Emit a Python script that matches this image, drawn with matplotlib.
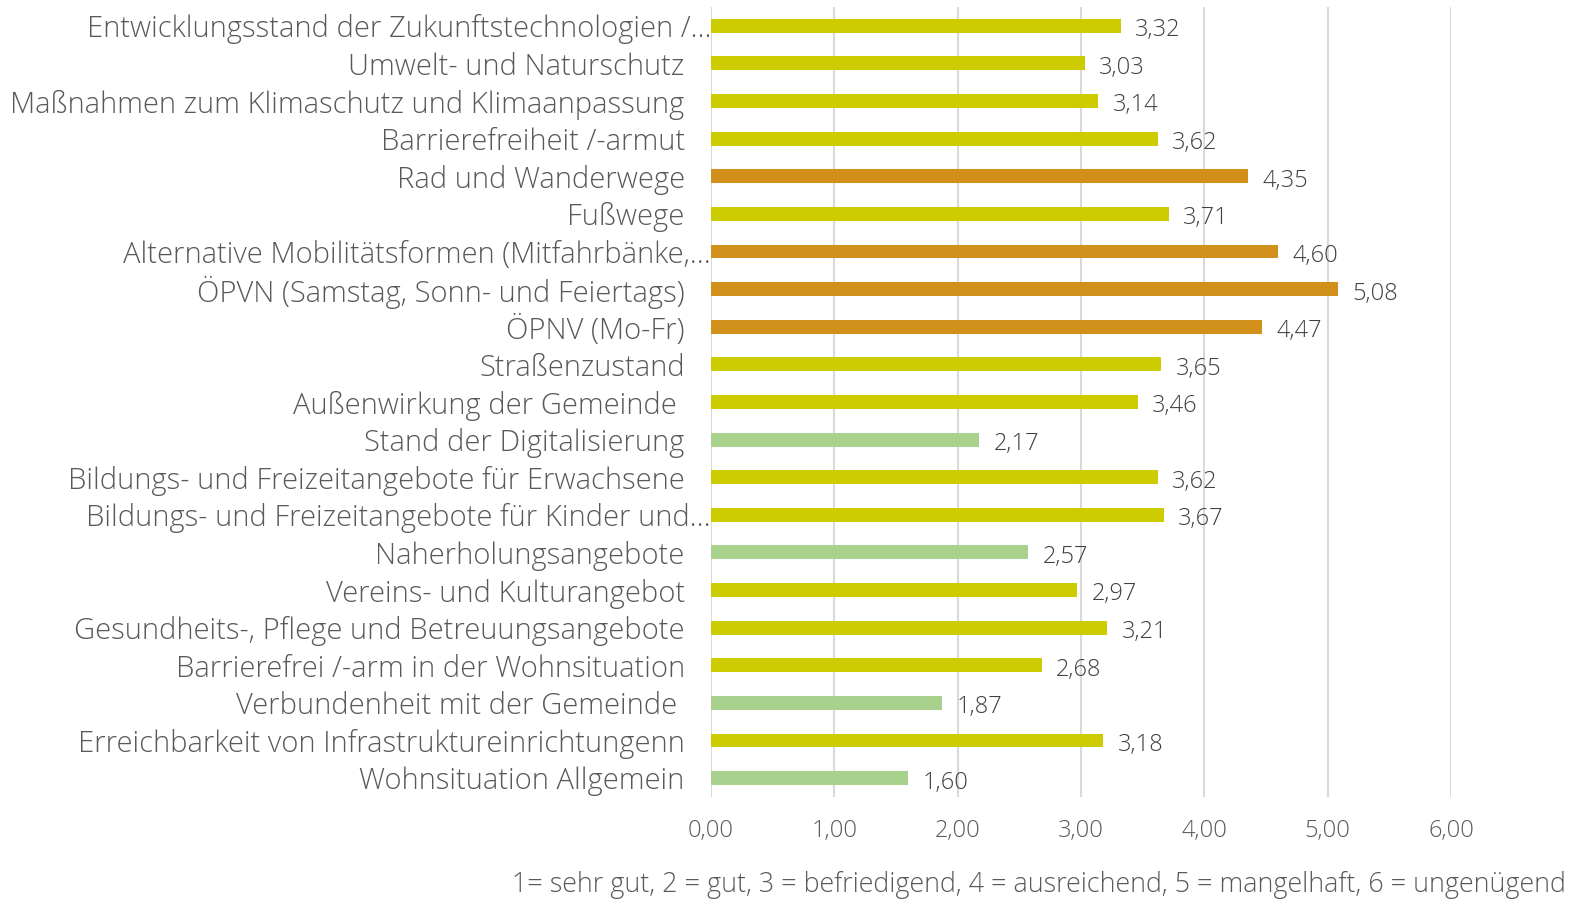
import numpy as np
import matplotlib.pyplot as plt
from matplotlib.transforms import ScaledTranslation

plt.rcParams['font.family'] = ['Open Sans', 'DejaVu Sans']
plt.rcParams['font.weight'] = 'light'

labels = [
    'Entwicklungsstand der Zukunftstechnologien /…',
    'Umwelt- und Naturschutz',
    'Maßnahmen zum Klimaschutz und Klimaanpassung',
    'Barrierefreiheit /-armut',
    'Rad und Wanderwege',
    'Fußwege',
    'Alternative Mobilitätsformen (Mitfahrbänke,…',
    'ÖPVN (Samstag, Sonn- und Feiertags)',
    'ÖPNV (Mo-Fr)',
    'Straßenzustand',
    'Außenwirkung der Gemeinde ',
    'Stand der Digitalisierung',
    'Bildungs- und Freizeitangebote für Erwachsene',
    'Bildungs- und Freizeitangebote für Kinder und…',
    'Naherholungsangebote',
    'Vereins- und Kulturangebot',
    'Gesundheits-, Pflege und Betreuungsangebote',
    'Barrierefrei /-arm in der Wohnsituation',
    'Verbundenheit mit der Gemeinde ',
    'Erreichbarkeit von Infrastruktureinrichtungenn',
    'Wohnsituation Allgemein',
]
values = [3.32, 3.03, 3.14, 3.62, 4.35, 3.71, 4.60, 5.08, 4.47, 3.65, 3.46,
          2.17, 3.62, 3.67, 2.57, 2.97, 3.21, 2.68, 1.87, 3.18, 1.60]
groups = ['m', 'm', 'm', 'm', 'h', 'm', 'h', 'h', 'h', 'm', 'm',
          'l', 'm', 'm', 'l', 'm', 'm', 'm', 'l', 'm', 'l']
ticks = [0, 1, 2, 3, 4, 5, 6]

palette = {'l': '#A9D18E', 'm': '#CCCC00', 'h': '#D0901A'}
grey = '#595959'

fig = plt.figure(figsize=(15.69, 8.99), dpi=100)
ax = fig.add_axes([0.4532, 0.1135, 0.4716, 0.8787])

y = np.arange(len(labels))[::-1]
ax.barh(y, values, height=0.37, color=[palette[g] for g in groups], zorder=2)

for yi, v in zip(y, values):
    ax.annotate(f'{v:.2f}'.replace('.', ','), (v, yi), xytext=(10.5, -1),
                textcoords='offset points', va='center_baseline', ha='left',
                fontsize=17, color='#404040')

ax.set_xlim(0, 6)
ax.set_ylim(-0.5, len(labels) - 0.5)
ax.set_xticks(ticks)
ax.set_xticklabels([f'{t:.2f}'.replace('.', ',') for t in ticks])
ax.set_yticks(y)
ax.set_yticklabels(labels)
ax.tick_params(axis='y', length=0, pad=19, labelsize=21, labelcolor=grey)
ax.tick_params(axis='x', length=0, pad=16, labelsize=17, labelcolor=grey)
ax.grid(axis='x', color='#D9D9D9', linewidth=1.5, zorder=0)
for s in ax.spines.values():
    s.set_visible(False)

# truncated labels in the original run right up to the plot area
shift = ScaledTranslation(19 / 72, 0, fig.dpi_scale_trans)
for lab in ax.get_yticklabels():
    if lab.get_text().endswith('…'):
        lab.set_transform(lab.get_transform() + shift)

fig.text(0.998, 0.016, '1= sehr gut, 2 = gut, 3 = befriedigend, 4 = ausreichend, '
         '5 = mangelhaft, 6 = ungenügend', ha='right', va='center',
         fontsize=19.4, color=grey)

fig.savefig('out.png', dpi=100)
